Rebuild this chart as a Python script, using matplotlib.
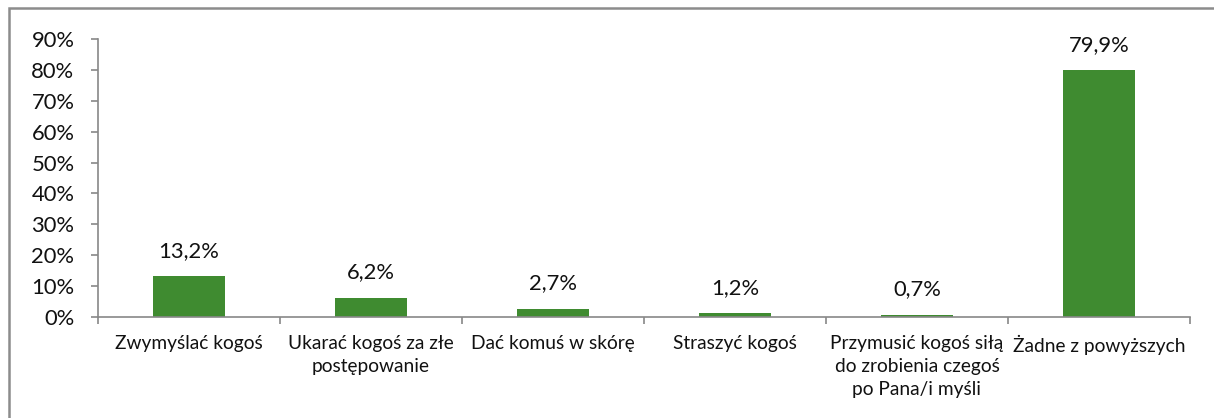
import matplotlib.pyplot as plt
from matplotlib.patches import Rectangle
from matplotlib.ticker import FuncFormatter

plt.rcParams['font.family'] = ['Lato', 'DejaVu Sans']

# Data
categories = ['Zwymyślać kogoś', 'Ukarać kogoś za złe\npostępowanie', 'Dać komuś w skórę',
              'Straszyć kogoś', 'Przymusić kogoś siłą\ndo zrobienia czegoś\npo Pana/i myśli',
              'Żadne z powyższych']
values = [13.2, 6.2, 2.7, 1.2, 0.7, 79.9]
labels = ['13,2%', '6,2%', '2,7%', '1,2%', '0,7%', '79,9%']

fig = plt.figure(figsize=(12.14, 4.18), dpi=100)
ax = fig.add_axes([98 / 1214, 1 - 317 / 418, (1190 - 98) / 1214, (317 - 39) / 418])

x = list(range(len(categories)))
bars = ax.bar(x, values, width=0.4, color='#3f8b30')

for b, lab in zip(bars, labels):
    ax.annotate(lab, (b.get_x() + b.get_width() / 2, b.get_height()),
                xytext=(0, 11), textcoords='offset points',
                ha='center', va='bottom', fontsize=15.8, color='#111111')

ax.set_xlim(-0.5, len(categories) - 0.5)
ax.set_ylim(0, 90)
ax.set_yticks(range(0, 91, 10))
ax.yaxis.set_major_formatter(FuncFormatter(lambda v, p: f'{int(v)}%'))
ax.set_xticks([i - 0.5 for i in range(len(categories) + 1)])
ax.set_xticklabels([])
ax.set_xticks(x, minor=True)
ax.set_xticklabels(categories, minor=True, fontsize=13.8, linespacing=1.42, va='top', color='#111111')
ax.tick_params(axis='x', which='minor', length=0, pad=13)
ax.tick_params(axis='x', which='major', length=5, color='#888888', width=1.2)
ax.tick_params(axis='y', length=5, color='#888888', width=1.2, labelsize=15.8, pad=12,
               labelcolor='#111111')

for s in ['top', 'right']:
    ax.spines[s].set_visible(False)
for s in ['left', 'bottom']:
    ax.spines[s].set_color('#888888')
    ax.spines[s].set_linewidth(1.2)

# outer frame
fig.patches.append(Rectangle((9 / 1214, -0.1), 1.2, 1.1 - 8 / 418, transform=fig.transFigure,
                             fill=False, edgecolor='#8c8c8c', linewidth=1.8))

fig.savefig('out.png', dpi=100)
